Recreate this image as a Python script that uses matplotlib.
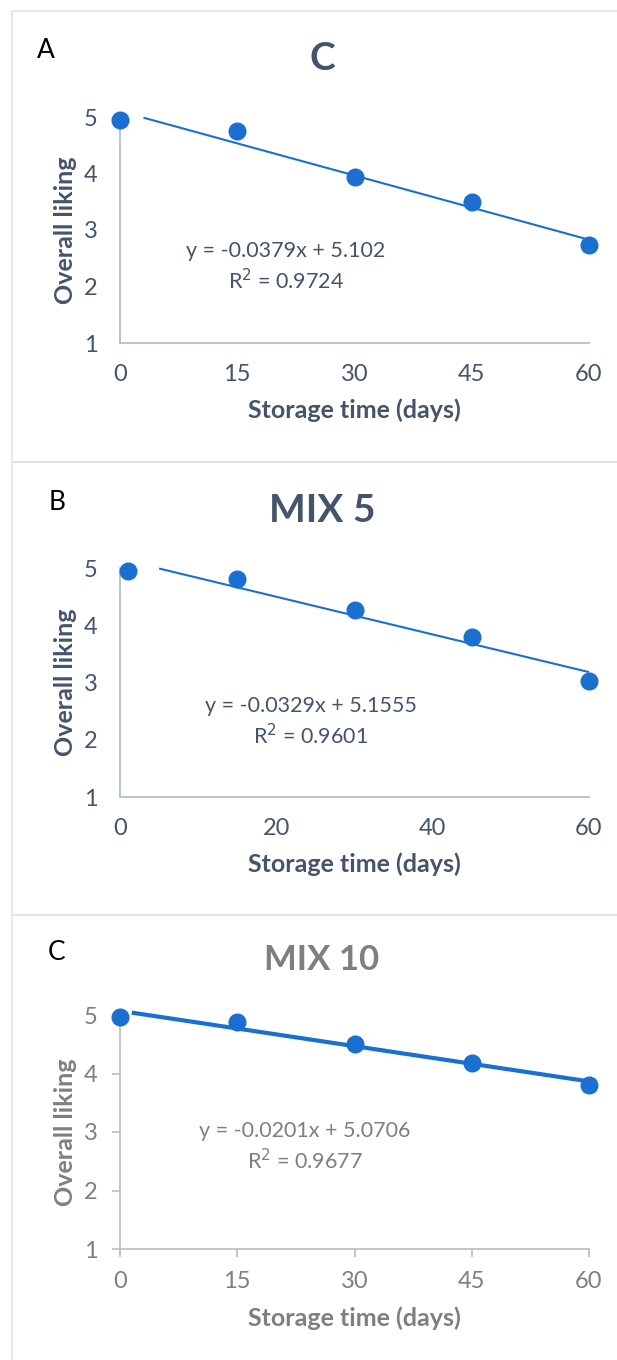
import numpy as np
import matplotlib
matplotlib.use("Agg")
import matplotlib.pyplot as plt
from matplotlib.patches import Rectangle

plt.rcParams["font.family"] = ["Lato", "DejaVu Sans"]

# === DATA ===
days_c = [0, 15, 30, 45, 60]
liking_c = [4.94, 4.75, 3.93, 3.49, 2.73]
fit_c = (-0.0379, 5.102, 0.9724)

days_mix5 = [1, 15, 30, 45, 60]
liking_mix5 = [4.95, 4.80, 4.27, 3.79, 3.03]
fit_mix5 = (-0.0329, 5.1555, 0.9601)

days_mix10 = [0, 15, 30, 45, 60]
liking_mix10 = [4.96, 4.88, 4.51, 4.18, 3.81]
fit_mix10 = (-0.0201, 5.0706, 0.9677)

panel_letters = ["A", "B", "C"]
titles = ["C", "MIX 5", "MIX 10"]
xticks_list = [[0, 15, 30, 45, 60], [0, 20, 40, 60], [0, 15, 30, 45, 60]]
yticks = [1, 2, 3, 4, 5]

# === STYLE ===
W, H = 617, 1360
BLUE = "#1a6fd0"
NAVY = "#44546a"
GREY = "#7f7f7f"


def fx(px):
    return px / W


def fy(py):
    return 1 - py / H


def draw_panel(fig, box, ax_px, x, y, fit, letter, title, xticks, style):
    # panel frame
    top, bottom = box
    fig.patches.append(Rectangle((fx(12), fy(bottom)), 1.0, fy(top) - fy(bottom),
                                 transform=fig.transFigure, fill=False,
                                 edgecolor="#dfe3e8", lw=1.2))
    left, right, ytop, ybot = ax_px
    ax = fig.add_axes([fx(left), fy(ybot), fx(right) - fx(left), fy(ytop) - fy(ybot)])
    ax.set_xlim(0, 60)
    ax.set_ylim(1, 5)

    slope, icpt, r2 = fit
    xs = np.array([style["trend_start"], 60])
    ax.plot(xs, slope * xs + icpt, color=BLUE, lw=style["lw"], zorder=2,
            solid_capstyle="butt", clip_on=False)
    ax.plot(x, y, "o", color=BLUE, ms=12, zorder=3, clip_on=False)

    for s in ["top", "right"]:
        ax.spines[s].set_visible(False)
    for s in ["left", "bottom"]:
        ax.spines[s].set_color(style["axis"])
        ax.spines[s].set_linewidth(1.3)

    ax.set_xticks(xticks)
    ax.set_yticks(yticks)
    ax.tick_params(labelsize=17, colors=style["axis"], labelcolor=style["text"],
                   length=style["ticklen"], width=1.3)
    ax.tick_params(axis="y", pad=style["ypad"])
    ax.tick_params(axis="x", pad=style["xpad"])

    ax.set_xlabel("Storage time (days)", fontsize=18, fontweight="bold",
                  color=style["text"], labelpad=10)
    ax.set_ylabel("Overall liking", fontsize=18, fontweight="bold",
                  color=style["text"], labelpad=style["ylabelpad"])

    eq = f"y = {slope}x + {icpt}\nR$^2$ = {r2}"
    fig.text(fx(style["eq_x"]), fy(style["eq_y"]), eq, ha="center", va="center",
             fontsize=15.5, color=style["text"], linespacing=1.3)

    fig.text(fx(style["title_x"]), fy(style["title_y"]), title, ha="center", va="center",
             fontsize=style["title_size"], fontweight="bold", color=style["title_color"])
    fig.text(fx(style["letter_x"]), fy(style["title_y"] - 8), letter, ha="center",
             va="center", fontsize=19, color="black")
    return ax


fig = plt.figure(figsize=(W / 100, H / 100), dpi=100)

navy_style = dict(axis="#b4c0d0", text=NAVY, ticklen=0, lw=1.5, title_color=NAVY,
                  ypad=16, xpad=15, ylabelpad=5)

draw_panel(fig, (11, 462), (120, 589, 117, 343), days_c, liking_c, fit_c,
           panel_letters[0], titles[0], xticks_list[0],
           dict(navy_style, trend_start=3, eq_x=286, eq_y=267, title_x=322,
                title_y=58, title_size=28, letter_x=46))

draw_panel(fig, (462, 915), (120, 589, 568, 797), days_mix5, liking_mix5, fit_mix5,
           panel_letters[1], titles[1], xticks_list[1],
           dict(navy_style, trend_start=5, eq_x=311, eq_y=722, title_x=322,
                title_y=510, title_size=28, letter_x=57))

draw_panel(fig, (915, 1370), (120, 589, 1015, 1249), days_mix10, liking_mix10, fit_mix10,
           panel_letters[2], titles[2], xticks_list[2],
           dict(axis="#c0c0c0", text=GREY, ticklen=6, lw=3, title_color=GREY,
                ypad=10, xpad=10, ylabelpad=5,
                trend_start=1.5, eq_x=305, eq_y=1147, title_x=322, title_y=960,
                title_size=25, letter_x=57))

fig.savefig("out.png", dpi=100, facecolor="white")
